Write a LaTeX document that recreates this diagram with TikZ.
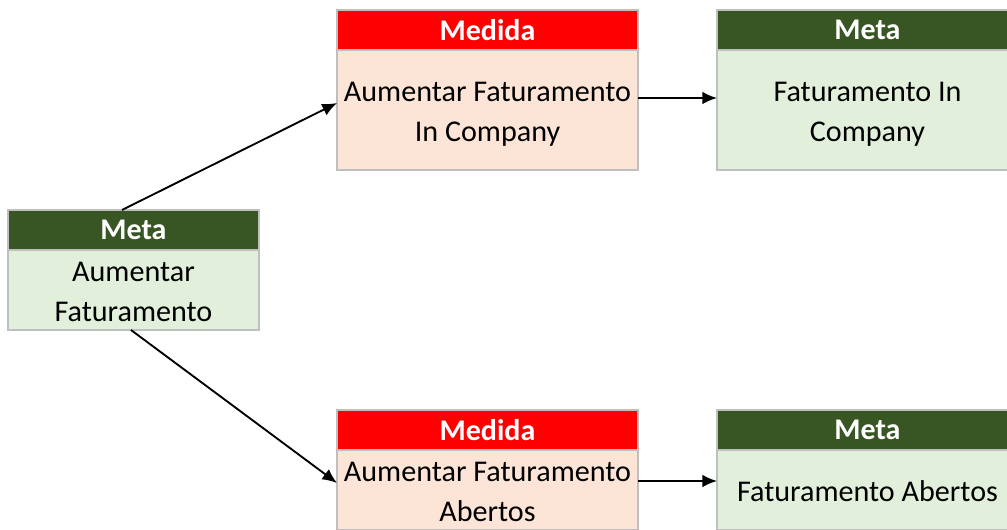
\documentclass[tikz,border=0pt]{standalone}
\usepackage{fontspec}
\setmainfont{Carlito}
\usetikzlibrary{arrows.meta}
\definecolor{metadark}{HTML}{375623}
\definecolor{metalight}{HTML}{E2EFDA}
\definecolor{medidared}{HTML}{FF0000}
\definecolor{medidalight}{HTML}{FCE4D6}
\definecolor{boxframe}{HTML}{BFBFBF}
\begin{document}
\begin{tikzpicture}[x=0.75pt,y=-0.75pt,
  cell/.style={draw=boxframe, line width=1.5pt, inner sep=0pt, outer sep=0pt,
    anchor=north west, align=center},
  head/.style={cell, minimum height=30pt, text=white,
    font=\fontsize{22.5}{28}\selectfont\bfseries},
  body/.style={cell, text=black, text depth=0pt, font=\fontsize{22.6}{30}\selectfont},
  oneline/.style={text height=17.2pt},
  twolines/.style={text height=47.2pt},
  metahead/.style={head, fill=metadark},
  metabody/.style={body, fill=metalight},
  medhead/.style={head, fill=medidared},
  medbody/.style={body, fill=medidalight},
  link/.style={line width=1.4pt, -{Latex[length=11pt, width=9.5pt]}}
]
\path[use as bounding box, clip] (0,0) rectangle (1007,530);

% left goal
\node[metahead, minimum width=188.25pt] (lh) at (8,210) {Meta};
\node[metabody, twolines, minimum width=188.25pt, minimum height=60pt] (lb) at (8,250) {Aumentar\\Faturamento};

% upper branch
\node[medhead, minimum width=225.75pt] (mh) at (337,10) {Medida};
\node[medbody, twolines, minimum width=225.75pt, minimum height=90pt] (mb) at (337,50) {Aumentar Faturamento\\In Company};
\node[metahead, minimum width=225.75pt] (th) at (717,10) {Meta};
\node[metabody, twolines, minimum width=225.75pt, minimum height=90pt] (tb) at (717,50) {Faturamento In\\Company};

% lower branch
\node[medhead, minimum width=225.75pt] (nh) at (337,410) {Medida};
\node[medbody, twolines, minimum width=225.75pt, minimum height=60pt] (nb) at (337,450) {Aumentar Faturamento\\Abertos};
\node[metahead, minimum width=225.75pt] (uh) at (717,410) {Meta};
\node[metabody, oneline, minimum width=225.75pt, minimum height=60pt] (ub) at (717,450) {Faturamento Abertos};

% connectors
\draw[link] ([xshift=85.5pt]lh.north west) -- ([yshift=5.25pt]mb.west);
\draw[link] ([xshift=92.25pt]lb.south west) -- ([yshift=5.25pt]nb.west);
\draw[link] ([yshift=9pt]mb.east) -- ([yshift=9pt]tb.west);
\draw[link] ([yshift=6.75pt]nb.east) -- ([yshift=6.75pt]ub.west);
\end{tikzpicture}
\end{document}
